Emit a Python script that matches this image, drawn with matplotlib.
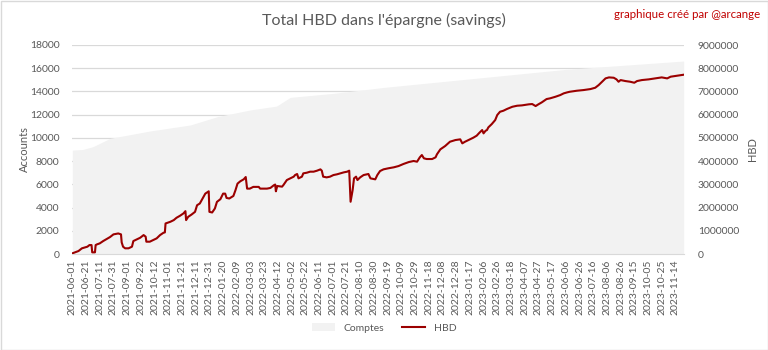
# %% --------------- IMPORTS                                     ---------------------------------------------------- #
import matplotlib
matplotlib.use("Agg")
from matplotlib import pyplot as plt
from matplotlib.patches import Patch, Rectangle
from matplotlib.lines import Line2D


# %% --------------- DATA                   ------------------------------------------------------------------------- #
n_days = 893          # number of categories on the x axis

tick_labels = [
    "2021-06-01", "2021-06-21", "2021-07-11", "2021-07-31", "2021-09-01", "2021-09-22", "2021-10-12",
    "2021-11-01", "2021-11-21", "2021-12-11", "2021-12-31", "2022-01-20", "2022-02-09", "2022-03-03",
    "2022-03-23", "2022-04-12", "2022-05-02", "2022-05-22", "2022-06-11", "2022-07-01", "2022-07-21",
    "2022-08-10", "2022-08-30", "2022-09-19", "2022-10-09", "2022-10-29", "2022-11-18", "2022-12-08",
    "2022-12-28", "2023-01-17", "2023-02-06", "2023-02-26", "2023-03-18", "2023-04-07", "2023-04-27",
    "2023-05-17", "2023-06-06", "2023-06-26", "2023-07-16", "2023-08-06", "2023-08-26", "2023-09-15",
    "2023-10-05", "2023-10-25", "2023-11-14",
]

# accounts (Comptes) - left axis
acc_idx = [0, 15, 30, 55, 113, 172, 211, 259, 298, 318, 381, 455, 720, 892]
acc_val = [8950, 9000, 9240, 9960, 10590, 11110, 11820, 12400, 12740, 13490, 13835, 14350, 15900, 16620]

# HBD in savings - right axis
hbd_idx = [
    0, 9, 14, 22, 25, 28, 29, 33, 34, 36, 40, 45, 50, 55, 60, 67, 71, 72, 74, 77,
    82, 87, 89, 94, 99, 104, 107, 108, 113, 118, 123, 128, 133, 135, 136, 143, 148, 152, 157, 162,
    165, 166, 169, 174, 179, 182, 186, 190, 194, 199, 200, 204, 208, 211, 216, 220, 223, 225, 229, 235,
    238, 241, 245, 250, 253, 255, 259, 264, 272, 274, 284, 289, 294, 296, 297, 299, 306, 308, 313, 318,
    323, 325, 328, 330, 335, 337, 342, 347, 352, 357, 362, 364, 366, 371, 376, 381, 386, 391, 396, 401,
    404, 406, 409, 411, 414, 416, 420, 425, 432, 435, 442, 445, 449, 454, 461, 469, 476, 483, 491, 498,
    503, 507, 510, 513, 517, 525, 530, 532, 537, 544, 551, 559, 566, 569, 573, 578, 585, 590, 594, 598,
    600, 603, 605, 607, 612, 617, 620, 624, 629, 634, 642, 649, 656, 666, 671, 676, 680, 685, 692, 697,
    705, 712, 717, 722, 726, 736, 746, 756, 763, 768, 773, 778, 783, 790, 794, 797, 800, 807, 814, 820,
    824, 831, 841, 851, 860, 868, 873, 882, 892,
]
hbd_val = [
    28500, 128500, 245000, 315000, 385000, 385000, 71500, 71500, 385000, 415000,
    457500, 557500, 645000, 730000, 845000, 885000, 845000, 500000, 315000, 245000,
    245000, 315000, 557500, 630000, 700000, 815000, 745000, 530000, 530000, 600000,
    672500, 815000, 915000, 930000, 1315000, 1387500, 1460000, 1560000, 1645000, 1745000,
    1845000, 1460000, 1600000, 1700000, 1815000, 2100000, 2175000, 2390000, 2600000, 2700000,
    1815000, 1787500, 1960000, 2245000, 2360000, 2600000, 2600000, 2415000, 2390000, 2500000,
    2745000, 3030000, 3130000, 3215000, 3315000, 2815000, 2815000, 2890000, 2890000, 2815000,
    2815000, 2845000, 2960000, 2990000, 2700000, 2927500, 2900000, 2970000, 3185000, 3257500,
    3330000, 3400000, 3445000, 3257500, 3330000, 3472500, 3500000, 3545000, 3545000, 3587500,
    3645000, 3587500, 3330000, 3300000, 3330000, 3400000, 3430000, 3472500, 3515000, 3545000,
    3587500, 2250000, 2755000, 3257500, 3330000, 3185000, 3300000, 3400000, 3445000, 3257500,
    3215000, 3400000, 3572500, 3645000, 3690000, 3732500, 3787500, 3875000, 3960000, 4005000,
    3975000, 4162500, 4262500, 4120000, 4090000, 4090000, 4162500, 4292500, 4507500, 4650000,
    4835000, 4907500, 4937500, 4765000, 4835000, 4907500, 5007500, 5095000, 5222500, 5337500,
    5195000, 5307500, 5337500, 5452500, 5595000, 5767500, 5985000, 6125000, 6170000, 6242500,
    6340000, 6385000, 6400000, 6445000, 6457500, 6370000, 6445000, 6530000, 6672500, 6702500,
    6772500, 6845000, 6917500, 6960000, 6987500, 7030000, 7060000, 7102500, 7160000, 7275000,
    7417500, 7562500, 7605000, 7590000, 7520000, 7417500, 7490000, 7447500, 7417500, 7375000,
    7447500, 7490000, 7520000, 7562500, 7605000, 7562500, 7635000, 7677500, 7720000,
]


# %% --------------- PLOT                                        ---------------------------------------------------- #
plt.rcParams["font.family"] = ["Lato", "DejaVu Sans"]
txt_col = "#595959"
grid_col = "#d9d9d9"
area_col = "#f2f2f2"
line_col = "#9b0000"

fig = plt.figure(figsize=(7.68, 3.5), dpi=100)
ax_1 = fig.add_axes([72 / 768, 1 - 254 / 350, (684 - 72) / 768, (254 - 45) / 350])
ax_2 = ax_1.twinx()

ax_1.fill_between(acc_idx, acc_val, 0, color=area_col, linewidth=0, zorder=1)
ax_2.plot(hbd_idx, hbd_val, color=line_col, linewidth=1.5, zorder=3)

ax_1.set_xlim(-0.5, n_days - 0.5)
ax_1.set_ylim(0, 18000)
ax_2.set_ylim(0, 9000000)
ax_1.set_yticks(range(0, 18001, 2000))
ax_2.set_yticks(range(0, 9000001, 1000000))
ax_2.set_yticklabels([str(v) for v in range(0, 9000001, 1000000)])
ax_1.set_xticks(range(0, 20 * len(tick_labels), 20))
ax_1.set_xticklabels(tick_labels, rotation=90)

ax_1.grid(axis="y", color=grid_col, linewidth=0.9, zorder=0)
ax_1.set_axisbelow(True)
for a in (ax_1, ax_2):
    for s in a.spines.values():
        s.set_visible(False)
    a.tick_params(length=0, labelsize=7.5, labelcolor=txt_col)
ax_1.spines["bottom"].set_visible(True)
ax_1.spines["bottom"].set_color(grid_col)
ax_1.tick_params(axis="y", pad=9)
ax_1.tick_params(axis="x", pad=4)
ax_2.tick_params(axis="y", pad=10)

ax_1.set_ylabel("Accounts", color=txt_col, fontsize=8)
ax_1.yaxis.set_label_coords(-0.068, 0.5)
ax_2.set_ylabel("HBD", color=txt_col, fontsize=8)
ax_2.yaxis.set_label_coords(1.103, 0.5)

fig.text(0.5, 1 - 20 / 350, "Total HBD dans l'épargne (savings)", ha="center", va="center",
         fontsize=11.5, color=txt_col)
fig.text(760 / 768, 1 - 14 / 350, "graphique créé par @arcange", ha="right", va="center",
         fontsize=8.3, color="#c00000")

handles = [Patch(facecolor=area_col, edgecolor="none", label="Comptes"),
           Line2D([], [], color=line_col, linewidth=1.5, label="HBD")]
fig.legend(handles=handles, loc="center", bbox_to_anchor=(384 / 768, 1 - 328 / 350), ncol=2,
           frameon=False, fontsize=7.5, labelcolor=txt_col, handlelength=2.2, columnspacing=1.8)

fig.patches.append(Rectangle((0.5 / 768, 0.5 / 350), 1 - 1 / 768, 1 - 1 / 350, transform=fig.transFigure,
                             fill=False, edgecolor=grid_col, linewidth=1))

fig.savefig("out.png", dpi=100)
